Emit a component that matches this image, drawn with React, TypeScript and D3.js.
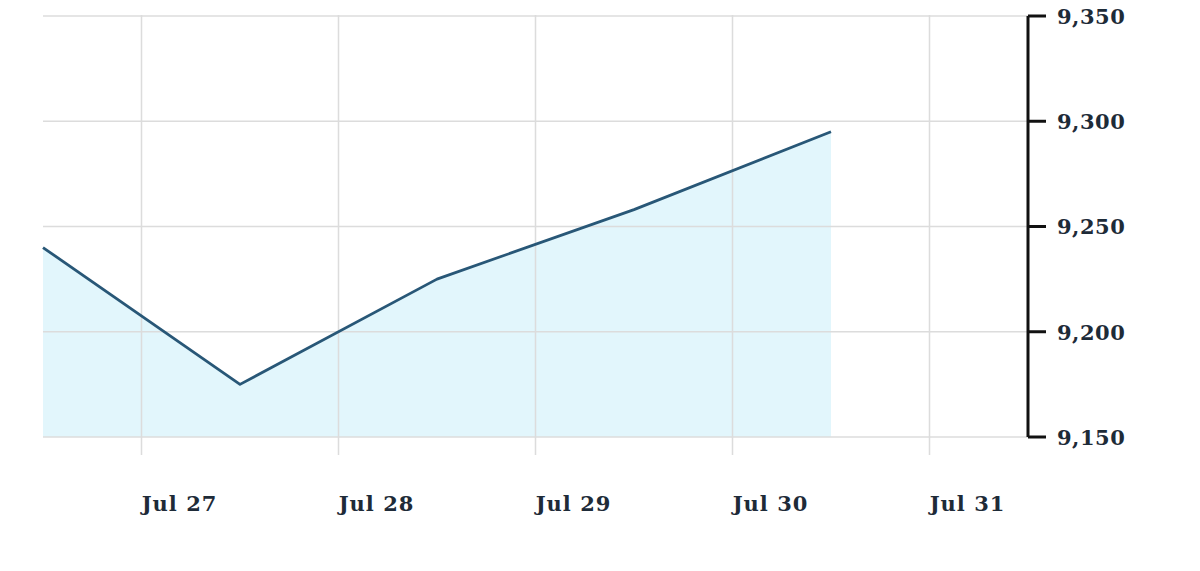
import React from "react";
import * as d3 from "d3";

const dates = ["2020-07-26T12:00", "2020-07-27T12:00", "2020-07-28T12:00", "2020-07-29T12:00", "2020-07-30T12:00"];
const values = [9240, 9175, 9225, 9258, 9295];
const yTicks = [9150, 9200, 9250, 9300, 9350];
const xTickDates = ["2020-07-27T00:00", "2020-07-28T00:00", "2020-07-29T00:00", "2020-07-30T00:00", "2020-07-31T00:00"];

const W = 1200, H = 571;
const left = 43, right = 1028, top = 16, bottom = 437;

export default function App() {
  const parse = (s: string) => new Date(s);
  const x = d3.scaleTime().domain([parse("2020-07-26T12:00"), parse("2020-07-31T12:00")]).range([left, right]);
  const y = d3.scaleLinear().domain([9150, 9350]).range([bottom, top]);
  const pts = dates.map((d, i) => ({ d: parse(d), v: values[i] }));
  const line = d3.line<any>().x((p) => x(p.d)).y((p) => y(p.v));
  const area = d3.area<any>().x((p) => x(p.d)).y0(bottom).y1((p) => y(p.v));
  const fmt = d3.format(",");
  const tfmt = d3.timeFormat("%b %-d");
  const font = "'DejaVu Serif', serif";
  return (
    <svg width={W} height={H} style={{ position: "absolute", left: 0, top: 0, background: "#fff" }}>
      <path d={area(pts) || ""} fill="#e2f6fc" />
      {yTicks.map((t) => (
        <line key={t} x1={left} x2={right} y1={y(t)} y2={y(t)} stroke="#dcdcdc" strokeWidth={1.5} />
      ))}
      {xTickDates.map((s) => {
        const xx = x(parse(s));
        return <line key={s} x1={xx} x2={xx} y1={top - 1} y2={bottom + 18} stroke="#dcdcdc" strokeWidth={1.5} />;
      })}
      <path d={line(pts) || ""} fill="none" stroke="#285777" strokeWidth={2.8} strokeLinejoin="round" />
      <line x1={right} x2={right} y1={y(9350)} y2={bottom} stroke="#111" strokeWidth={3} />
      {yTicks.map((t) => (
        <g key={"yt" + t}>
          <line x1={right} x2={right + 18} y1={y(t)} y2={y(t)} stroke="#111" strokeWidth={3} />
          <text x={1057} y={y(t)} dy="0.38em" fontFamily={font} fontWeight="bold" fontSize={21} fill="#1e2b38" letterSpacing={0.5}>
            {fmt(t)}
          </text>
        </g>
      ))}
      {xTickDates.map((s) => {
        const xx = x(parse(s));
        return (
          <text key={"xl" + s} x={xx + 38} y={511} textAnchor="middle" fontFamily={font} fontWeight="bold" fontSize={21} fill="#1e2b38" letterSpacing={1}>
            {tfmt(parse(s))}
          </text>
        );
      })}
    </svg>
  );
}
